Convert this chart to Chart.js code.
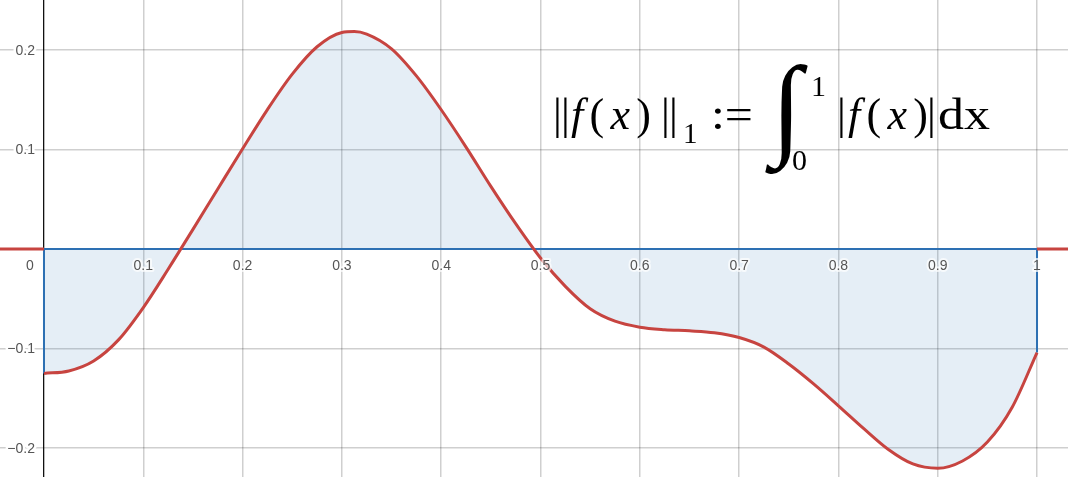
<!DOCTYPE html>
<html>
<head>
<meta charset="utf-8">
<script src="https://cdn.jsdelivr.net/npm/chart.js@4/dist/chart.umd.min.js"></script>
<style>
  html, body { margin: 0; padding: 0; background: #ffffff; overflow: hidden; }
  #wrap { position: relative; width: 1068px; height: 477px; }
  #chart { position: absolute; left: 0; top: 0; }
  #formula { position: absolute; left: 0; top: 0; pointer-events: none; }
</style>
</head>
<body>
<div id="wrap">
  <canvas id="chart" width="1068" height="477"></canvas>
  <svg id="formula" width="1068" height="477" font-family="'Liberation Serif', serif" fill="#000">
    <text x="553" y="129" font-size="44">|</text>
    <text x="561" y="129" font-size="44">|</text>
    <text x="571" y="129" font-size="44" textLength="80" lengthAdjust="spacing"><tspan font-style="italic">f</tspan>(<tspan font-style="italic">x</tspan>)</text>
    <text x="661" y="129" font-size="44">|</text>
    <text x="669" y="129" font-size="44">|</text>
    <text x="683" y="143" font-size="29">1</text>
    <text x="711" y="129" font-size="44" textLength="42" lengthAdjust="spacingAndGlyphs">:=</text>
    <text x="771" y="144" font-size="112">∫</text>
    <text x="811" y="96" font-size="30">1</text>
    <text x="792" y="170" font-size="30">0</text>
    <text x="837" y="129" font-size="44">|</text>
    <text x="848" y="129" font-size="44" textLength="80" lengthAdjust="spacing"><tspan font-style="italic">f</tspan>(<tspan font-style="italic">x</tspan>)</text>
    <text x="927" y="129" font-size="44">|</text>
    <text x="938" y="129" font-size="44" textLength="52" lengthAdjust="spacingAndGlyphs">dx</text>
  </svg>
</div>
<script>
// ---- data: f(x) on [0, 1] ----
const xs = [0, 0.025, 0.05, 0.075, 0.1, 0.125, 0.15, 0.175, 0.2, 0.225, 0.25, 0.275, 0.3, 0.3125, 0.325, 0.35, 0.375, 0.4, 0.425, 0.45, 0.475, 0.5, 0.525, 0.55, 0.575, 0.6, 0.625, 0.65, 0.675, 0.7, 0.725, 0.75, 0.775, 0.8, 0.825, 0.85, 0.875, 0.9, 0.925, 0.95, 0.975, 1.0];
const fx = [-0.125, -0.1225, -0.1125, -0.0913, -0.0588, -0.0203, 0.0198, 0.0604, 0.1008, 0.1402, 0.1758, 0.2033, 0.2177, 0.2186, 0.216, 0.2012, 0.174, 0.140, 0.1025, 0.063, 0.0255, -0.009, -0.0375, -0.060, -0.0725, -0.0785, -0.081, -0.0822, -0.0841, -0.0889, -0.0985, -0.1155, -0.1355, -0.1575, -0.180, -0.2012, -0.216, -0.2203, -0.213, -0.194, -0.159, -0.104];
// f(x) = 0 outside [0, 1]
const leftX = [-0.1, 0];
const rightX = [1, 1.1];
const outsideY = [0, 0];
// integration bounds
const lowerBound = 0;
const upperBound = 1;
// axis ticks and labels
const xTickValues = [0, 0.1, 0.2, 0.3, 0.4, 0.5, 0.6, 0.7, 0.8, 0.9, 1];
const xTickLabels = ['0', '0.1', '0.2', '0.3', '0.4', '0.5', '0.6', '0.7', '0.8', '0.9', '1'];
const yTickValues = [-0.2, -0.1, 0, 0.1, 0.2];
const yTickLabels = ['\u22120.2', '\u22120.1', '', '0.1', '0.2'];
// visible window
const xRange = [-0.0443, 1.0312];
const yRange = [-0.2291, 0.2503];

const curve = xs.map((x, i) => ({ x: x, y: fx[i] }));
const leftStub = leftX.map((x, i) => ({ x: x, y: outsideY[i] }));
const rightStub = rightX.map((x, i) => ({ x: x, y: outsideY[i] }));
const boundary = [
  { x: lowerBound, y: fx[0] },
  { x: lowerBound, y: 0 },
  { x: upperBound, y: 0 },
  { x: upperBound, y: fx[fx.length - 1] }
];

const RED = '#c74440';
const BLUE = '#2d70b3';

const tickLabelPlugin = {
  id: 'tickLabels',
  afterDatasetsDraw(chart) {
    const ctx = chart.ctx;
    const sx = chart.scales.x, sy = chart.scales.y;
    const x0 = sx.getPixelForValue(0);
    const y0 = sy.getPixelForValue(0);
    ctx.save();
    ctx.font = '14px "Liberation Sans", Arial, sans-serif';
    ctx.textBaseline = 'middle';
    ctx.lineJoin = 'round';
    ctx.textAlign = 'center';
    xTickValues.forEach((v, i) => {
      const label = xTickLabels[i];
      if (!label) return;
      let px = sx.getPixelForValue(v);
      if (v === 0) px -= 14;
      const py = y0 + 17;
      ctx.strokeStyle = 'rgba(255,255,255,0.7)';
      ctx.lineWidth = 4;
      ctx.strokeText(label, px, py);
      ctx.fillStyle = '#555555';
      ctx.fillText(label, px, py);
    });
    ctx.textAlign = 'right';
    yTickValues.forEach((v, i) => {
      const label = yTickLabels[i];
      if (!label) return;
      const px = x0 - 9;
      const py = sy.getPixelForValue(v) + 1;
      ctx.strokeStyle = '#ffffff';
      ctx.lineWidth = 5;
      ctx.strokeText(label, px, py);
      ctx.fillStyle = '#555555';
      ctx.fillText(label, px, py);
    });
    ctx.restore();
  }
};

new Chart(document.getElementById('chart'), {
  type: 'line',
  data: {
    datasets: [
      { data: curve, borderColor: RED, borderWidth: 3, pointRadius: 0, cubicInterpolationMode: 'monotone', fill: false, order: 0 },
      { data: leftStub, borderColor: RED, borderWidth: 3, pointRadius: 0, tension: 0, fill: false, order: 0 },
      { data: rightStub, borderColor: RED, borderWidth: 3, pointRadius: 0, tension: 0, fill: false, order: 0 },
      { data: boundary, borderColor: BLUE, borderWidth: 2, pointRadius: 0, tension: 0, fill: false, order: 1 },
      {
        data: curve, borderWidth: 0, borderColor: 'rgba(0,0,0,0)', pointRadius: 0, cubicInterpolationMode: 'monotone',
        fill: 'origin', backgroundColor: 'rgba(45,112,179,0.12)', order: 2
      }
    ]
  },
  options: {
    responsive: false,
    devicePixelRatio: 1,
    animation: false,
    events: [],
    layout: { padding: 0 },
    plugins: { legend: { display: false }, tooltip: { enabled: false } },
    scales: {
      x: {
        type: 'linear', min: xRange[0], max: xRange[1],
        border: { display: false },
        ticks: { display: false },
        grid: {
          drawTicks: false,
          color: c => (c.tick && c.tick.value === 0) ? '#111111' : 'rgba(0,0,0,0.19)',
          lineWidth: c => (c.tick && c.tick.value === 0) ? 1.3 : 1.5
        },
        afterBuildTicks: s => { s.ticks = xTickValues.map(v => ({ value: v })); },
        afterFit: s => { s.height = 0; }
      },
      y: {
        type: 'linear', min: yRange[0], max: yRange[1],
        border: { display: false },
        ticks: { display: false },
        grid: {
          drawTicks: false,
          color: c => (c.tick && c.tick.value === 0) ? '#111111' : 'rgba(0,0,0,0.19)',
          lineWidth: 1.5
        },
        afterBuildTicks: s => { s.ticks = yTickValues.map(v => ({ value: v })); },
        afterFit: s => { s.width = 0; }
      }
    }
  },
  plugins: [tickLabelPlugin]
});
</script>
</body>
</html>
